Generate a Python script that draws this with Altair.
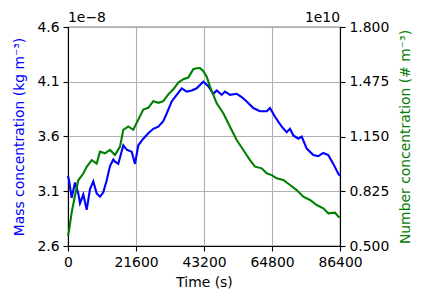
import altair as alt
import pandas as pd

# Mass concentration (units of 1e-8 kg m^-3)
mass_t = [0, 318, 1175, 2224, 3272, 3812, 4860, 5940, 6988, 8037, 9117, 10165, 11213,
          12293, 13341, 14400, 14929, 15978, 17566, 18646, 20234, 21282, 22331, 23919,
          25507, 27096, 28684, 30272, 31352, 32940, 34528, 36117, 37705, 39293, 40881,
          41929, 42978, 44566, 46154, 47234, 48822, 49870, 51459, 53587, 55175, 56763,
          58860, 60989, 63117, 64165, 65753, 67882, 69470, 70518, 71566, 73155, 74235,
          75823, 77919, 79508, 81096, 82684, 84272, 85860, 86400]
mass_v = [3.24, 3.20, 3.04, 3.18, 3.08, 2.99, 3.07, 2.93, 3.12, 3.19, 3.08, 3.05, 3.09,
          3.20, 3.33, 3.39, 3.37, 3.35, 3.52, 3.48, 3.46, 3.35, 3.52, 3.58,
          3.63, 3.67, 3.69, 3.74, 3.81, 3.92, 3.98, 4.04, 4.01, 4.02, 4.04,
          4.07, 4.10, 4.06, 3.99, 4.02, 3.98, 4.01, 3.98, 3.99, 3.96, 3.92,
          3.86, 3.83, 3.83, 3.86, 3.78, 3.69, 3.64, 3.67, 3.61, 3.58, 3.60,
          3.49, 3.43, 3.42, 3.45, 3.43, 3.35, 3.26, 3.24]

# Number concentration (units of 1e10 # m^-3)
num_t = [0, 318, 1175, 2224, 3272, 4860, 5940, 7528, 9117, 10165, 11753, 13341, 14929,
         16518, 17566, 19154, 20742, 22331, 23919, 25507, 27096, 28684, 30272, 31860,
         33448, 35037, 36625, 38213, 39801, 40881, 41929, 42882, 44058, 45106, 47234,
         49331, 51459, 53587, 55683, 57812, 59400, 61528, 63117, 64705, 66293, 68390,
         70518, 72646, 74743, 76871, 78999, 81096, 82684, 84812, 85860, 86400]
num_v = [0.56, 0.59, 0.70, 0.80, 0.89, 0.93, 0.97, 1.01, 0.99, 1.06, 1.05, 1.07, 1.04,
         1.09, 1.19, 1.21, 1.19, 1.25, 1.31, 1.32, 1.36, 1.35, 1.36, 1.40,
         1.43, 1.47, 1.49, 1.50, 1.55, 1.555, 1.556, 1.54, 1.505, 1.446, 1.347,
         1.288, 1.208, 1.129, 1.070, 1.010, 0.971, 0.961, 0.932, 0.921, 0.902, 0.892,
         0.862, 0.832, 0.793, 0.773, 0.743, 0.724, 0.694, 0.698, 0.674, 0.67]

x_ticks = [0, 21600, 43200, 64800, 86400]
mass_ticks = [2.6, 3.1, 3.6, 4.1, 4.6]
num_ticks = [0.5, 0.825, 1.15, 1.475, 1.8]

FONT = "DejaVu Sans"
FS = 13.9

mass_df = pd.DataFrame({"t": mass_t, "v": mass_v})
num_df = pd.DataFrame({"t": num_t, "v": num_v})

x_enc = alt.X("t:Q", scale=alt.Scale(domain=[0, 86400], nice=False, zero=False),
              axis=alt.Axis(values=x_ticks, format="d", title="Time (s)", grid=True,
                            gridColor="#b0b0b0", gridWidth=1.1, tickSize=5,
                            labelPadding=4, titlePadding=7, labelFlush=False))

mass_line = alt.Chart(mass_df).mark_line(color="#0000ff", strokeWidth=2.1).encode(
    x=x_enc,
    y=alt.Y("v:Q", scale=alt.Scale(domain=[2.6, 4.6], nice=False, zero=False),
            axis=alt.Axis(values=mass_ticks, format=".1f",
                          title="Mass concentration (kg m⁻³)", titleColor="#0000ff",
                          grid=True, gridColor="#b0b0b0", gridWidth=1.1, tickSize=5,
                          labelPadding=4, titleX=-49, titleY=109.5, titleAngle=270,
                          titleAlign="center", titleBaseline="middle", labelFlush=False)),
)

num_line = alt.Chart(num_df).mark_line(color="#008000", strokeWidth=2.1).encode(
    x=alt.X("t:Q", scale=alt.Scale(domain=[0, 86400], nice=False, zero=False)),
    y=alt.Y("v:Q", scale=alt.Scale(domain=[0.5, 1.8], nice=False, zero=False),
            axis=alt.Axis(orient="right", values=num_ticks, format=".3f",
                          title="Number concentration (# m⁻³)", titleColor="#008000",
                          grid=False, tickSize=5, labelPadding=4,
                          titleX=65, titleY=109.5, titleAngle=270,
                          titleAlign="center", titleBaseline="middle", labelFlush=False)),
)

offs_l = alt.Chart(pd.DataFrame({"s": ["1e−8"]})).mark_text(
    align="left", baseline="alphabetic", font=FONT, fontSize=FS, color="black"
).encode(x=alt.value(0), y=alt.value(-5), text="s:N")
offs_r = alt.Chart(pd.DataFrame({"s": ["1e10"]})).mark_text(
    align="right", baseline="alphabetic", font=FONT, fontSize=FS, color="black"
).encode(x=alt.value(272), y=alt.value(-5), text="s:N")

chart = alt.layer(mass_line, num_line, offs_l, offs_r).resolve_scale(
    y="independent"
).properties(
    width=272, height=219,
    autosize=alt.AutoSizeParams(type="none"),
    padding={"left": 60, "top": 19, "right": 76, "bottom": 46},
    background="white",
).configure_view(stroke="black", strokeWidth=1.1).configure_axis(
    labelFont=FONT, titleFont=FONT, labelFontSize=FS, titleFontSize=FS,
    labelColor="black", tickColor="black", domainColor="black", domainWidth=1.1,
    tickWidth=1.1, titleFontWeight="normal",
)

chart.save("out.html", embed_options={"renderer": "svg", "actions": False})
